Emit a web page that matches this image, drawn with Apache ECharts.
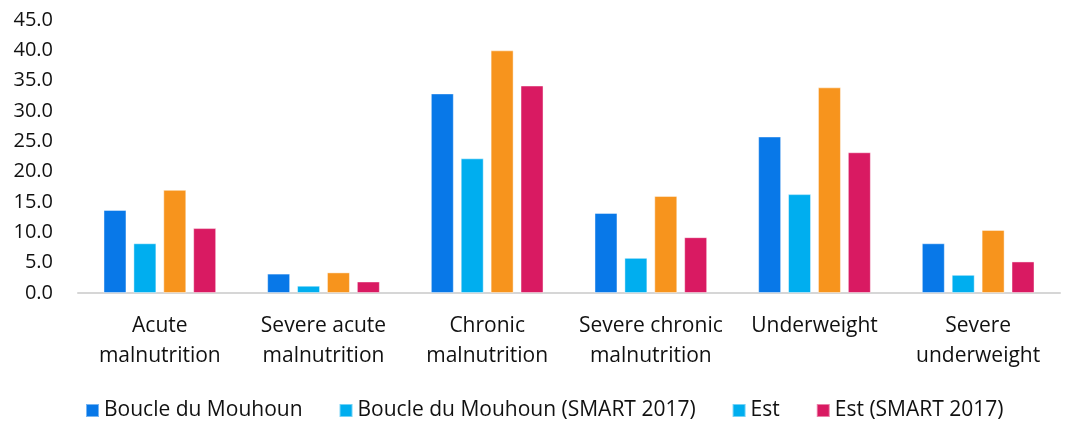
<!DOCTYPE html>
<html>
<head>
<meta charset="utf-8">
<script src="https://cdn.jsdelivr.net/npm/echarts@6/dist/echarts.min.js"></script>
<style>
  html, body { margin: 0; padding: 0; background: #fff; }
  #chart { width: 1066px; height: 423px; }
</style>
</head>
<body>
<div id="chart"></div>
<script>
// data
var categories = [
  'Acute\nmalnutrition',
  'Severe acute\nmalnutrition',
  'Chronic\nmalnutrition',
  'Severe chronic\nmalnutrition',
  'Underweight',
  'Severe\nunderweight'
];
var seriesNames = ['Boucle du Mouhoun', 'Boucle du Mouhoun (SMART 2017)', 'Est', 'Est (SMART 2017)'];
var boucle      = [13.7, 3.2, 32.9, 13.2, 25.8, 8.2];
var boucleSmart = [8.2, 1.2, 22.2, 5.8, 16.3, 3.0];
var est         = [17.0, 3.4, 40.0, 16.0, 33.9, 10.4];
var estSmart    = [10.7, 1.9, 34.2, 9.2, 23.2, 5.2];
var colors = ['#0878E8', '#00AEEF', '#F7941D', '#D91A62'];

var myChart = echarts.init(document.getElementById('chart'));

function bar(name, values, color) {
  return {
    name: name,
    type: 'bar',
    data: values,
    barWidth: 23,
    barGap: '30%',
    itemStyle: { color: color, borderColor: 'rgba(255,255,255,0.45)', borderWidth: 1 }
  };
}

var option = {
  animation: false,
  textStyle: { fontFamily: 'Open Sans' },
  grid: { left: 78, right: 6, top: 20, bottom: 130 },
  legend: {
    left: 80,
    top: 395,
    itemWidth: 13,
    itemHeight: 13,
    itemGap: 36,
    icon: 'rect',
    textStyle: { fontSize: 21, color: '#111', fontFamily: 'Open Sans', padding: [0, 0, 0, 0] },
    data: [
      { name: seriesNames[0] },
      { name: seriesNames[1] },
      // the legend swatch for "Est" is drawn cyan in the original
      { name: seriesNames[2], itemStyle: { color: colors[1] } },
      { name: seriesNames[3] }
    ]
  },
  xAxis: {
    type: 'category',
    data: categories,
    axisLine: { lineStyle: { color: '#d6d6d6', width: 2 } },
    axisTick: { show: false },
    axisLabel: {
      color: '#111',
      fontSize: 21,
      lineHeight: 30,
      margin: 18,
      interval: 0
    }
  },
  yAxis: {
    type: 'value',
    min: 0,
    max: 45,
    interval: 5,
    splitLine: { show: false },
    axisLine: { show: false },
    axisTick: { show: false },
    axisLabel: {
      color: '#111',
      fontSize: 20,
      margin: 25,
      formatter: function (v) { return v.toFixed(1); }
    }
  },
  series: [
    bar(seriesNames[0], boucle, colors[0]),
    bar(seriesNames[1], boucleSmart, colors[1]),
    bar(seriesNames[2], est, colors[2]),
    bar(seriesNames[3], estSmart, colors[3])
  ]
};

myChart.setOption(option);
</script>
</body>
</html>
